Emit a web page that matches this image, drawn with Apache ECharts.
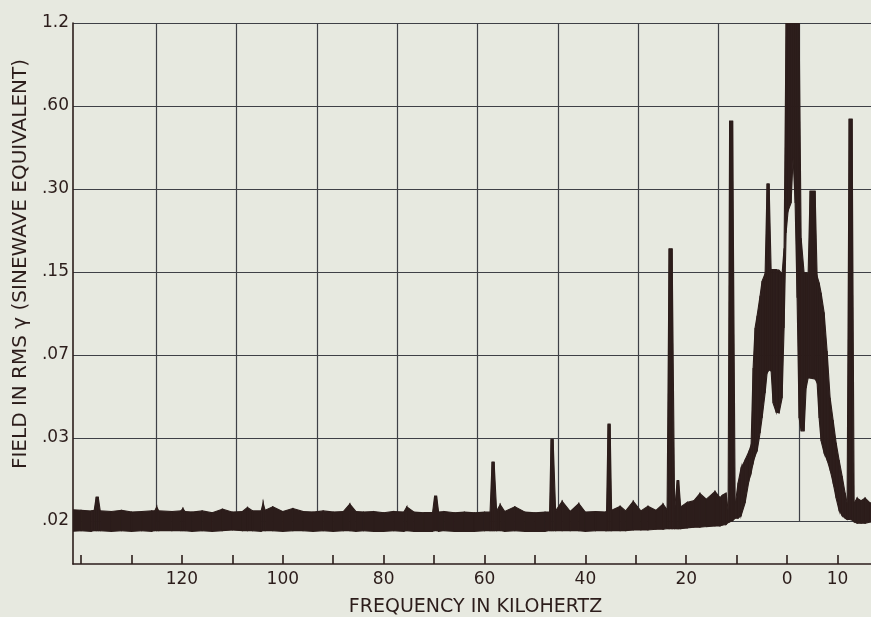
<!DOCTYPE html>
<html>
<head>
<meta charset="utf-8">
<script src="https://cdn.jsdelivr.net/npm/echarts@6/dist/echarts.min.js"></script>
<style>
  html, body { margin: 0; padding: 0; background: #e7e9e0; }
  #spectrum { width: 871px; height: 617px; }
</style>
</head>
<body>
<div id="spectrum"></div>
<script>
// frequency in kHz; negative = right of the 0 mark (labelled "10")
var freqKHz = [
  142.0, 140.0, 138.0, 137.4, 137.0, 136.6, 136.2, 134.0, 132.0, 130.0,
  128.0, 126.0, 125.4, 125.0, 124.6, 122.0, 120.2, 119.8, 119.4, 118.0,
  116.0, 114.0, 112.0, 110.0, 108.0, 107.0, 106.0, 104.3, 103.9, 103.5,
  102.0, 100.0, 98.0, 96.0, 94.0, 92.0, 90.0, 88.0, 86.7, 85.5,
  84.0, 82.0, 80.0, 78.0, 76.0, 75.4, 74.0, 72.0, 70.3, 69.9,
  69.5, 69.1, 68.0, 66.0, 64.0, 62.0, 60.0, 58.9, 58.5, 58.1,
  57.6, 56.9, 56.0, 54.0, 52.0, 50.0, 48.0, 47.1, 46.8, 46.4,
  45.9, 44.6, 43.0, 41.3, 40.0, 38.0, 36.0, 35.8, 35.5, 35.1,
  34.8, 33.1, 32.0, 30.5, 29.0, 27.6, 26.0, 24.6, 23.8, 23.4,
  22.8, 22.3, 21.8, 21.5, 21.1, 19.8, 18.5, 17.3, 16.0, 14.3,
  13.3, 12.9, 12.1, 11.7, 11.4, 10.8, 10.3, 9.72, 9.12, 8.33,
  7.54, 7.14, 6.74, 6.35, 5.95, 5.36, 4.96, 4.36, 3.97, 3.57,
  3.17, 2.78, 2.18, 1.59, 0.99, 0.60, 0.20, -0.20, -0.79, -1.19,
  -1.59, -1.98, -2.38, -2.78, -3.37, -3.77, -4.17, -4.56, -5.55, -5.95,
  -6.35, -6.74, -7.34, -7.93, -8.53, -9.12, -9.72, -10.31, -10.91, -11.50,
  -11.90, -12.30, -12.89, -13.29, -13.88, -14.68, -15.47, -16.46, -18.45, -21.4
];
// upper edge of the inked trace (rms field, gamma)
var fieldHi = [
  .0206, .0205, .0204, .0205, .0229, .0229, .0204, .0203, .0205, .0202,
  .0203, .0204, .0204, .0211, .0204, .0203, .0204, .0208, .0203, .0202,
  .0204, .0201, .0207, .0202, .0203, .0210, .0204, .0204, .0218, .0205,
  .0211, .0203, .0208, .0203, .0202, .0204, .0202, .0203, .0216, .0203,
  .0202, .0203, .0201, .0203, .0202, .0211, .0202, .0201, .0201, .0231,
  .0231, .0202, .0203, .0201, .0202, .0201, .0202, .0202, .0307, .0307,
  .0204, .0215, .0203, .0211, .0202, .0201, .0202, .0202, .0371, .0371,
  .0204, .0221, .0203, .0217, .0202, .0203, .0202, .0203, .0421, .0421,
  .0205, .0212, .0204, .0221, .0204, .0212, .0205, .0216, .0206, .182,
  .182, .0206, .0263, .0263, .0211, .0219, .0222, .0236, .0225, .0240,
  .0228, .0232, .0237, .0205, .529, .529, .0214, .0258, .0292, .0312,
  .0336, .0354, .0673, .0940, .104, .123, .139, .148, .313, .313,
  .153, .153, .153, .152, .148, .183, 1.6, 1.6, 1.6, 1.6,
  1.6, 1.6, 1.6, .199, .149, .149, .148, .295, .295, .145,
  .137, .126, .107, .0776, .0524, .0436, .0360, .0312, .0273, .0237,
  .0218, .538, .538, .0218, .0227, .0222, .0227, .0218, .0220, .0218
];
// lower edge of the inked trace
var fieldLo = [
  .0172, .0173, .0172, .0173, .0173, .0173, .0173, .0172, .0173, .0172,
  .0173, .0172, .0173, .0173, .0173, .0173, .0173, .0173, .0173, .0172,
  .0173, .0172, .0173, .0174, .0173, .0173, .0173, .0172, .0173, .0173,
  .0173, .0172, .0173, .0173, .0172, .0173, .0172, .0173, .0173, .0172,
  .0173, .0172, .0172, .0173, .0172, .0173, .0172, .0172, .0172, .0173,
  .0173, .0172, .0173, .0172, .0172, .0172, .0173, .0173, .0173, .0173,
  .0173, .0173, .0172, .0173, .0172, .0172, .0172, .0173, .0173, .0173,
  .0173, .0173, .0173, .0173, .0172, .0173, .0173, .0173, .0173, .0173,
  .0173, .0173, .0173, .0174, .0174, .0174, .0175, .0175, .0176, .0176,
  .0176, .0176, .0176, .0176, .0176, .0177, .0178, .0178, .0179, .0180,
  .0180, .0181, .0182, .0185, .0186, .0188, .0192, .0192, .0196, .0218,
  .0264, .0280, .0304, .0323, .0336, .0391, .0443, .0546, .0645, .0662,
  .0656, .0502, .0466, .0462, .0524, .0940, .208, .250, .267, .389,
  .267, .121, .0443, .0398, .0398, .0569, .0619, .0619, .0614, .0594,
  .0443, .0366, .0331, .0312, .0287, .0258, .0227, .0205, .0196, .0192,
  .0190, .0190, .0189, .0186, .0184, .0184, .0184, .0186, .0186, .0185
];

var yTickLabels = ['.02', '.03', '.07', '.15', '.30', '.60', '1.2'];
var xTickValues = [-10, 0, 10, 20, 30, 40, 50, 60, 70, 80, 90, 100, 110, 120, 130, 140];
var xLabelValues = [-10, 0, 20, 40, 60, 80, 100, 120];

// graph paper: vertical rulings every 15.92 kHz
var paperFirst = 125.05, paperStep = 15.92;
var paperLines = [];
for (var p = paperFirst; p > -21; p -= paperStep) paperLines.push(+p.toFixed(2));

var ink = '#2c1d1b';
var rule = '#3e4046';
var font = 'DejaVu Sans';

// each ruled step on the paper is a doubling; .02 sits at 1
function toAxis(v) {
  return Math.log(v / 0.01875) / Math.LN2 + 1;
}

// one quad per pair of neighbouring samples: [f, hi, lo, fNext, hiNext, loNext]
var traceData = [];
for (var i = 0; i < freqKHz.length - 1; i++) {
  traceData.push([
    freqKHz[i], toAxis(fieldHi[i]), toAxis(fieldLo[i]),
    freqKHz[i + 1], toAxis(fieldHi[i + 1]), toAxis(fieldLo[i + 1])
  ]);
}

function renderTrace(params, api) {
  var top = params.coordSys.y;
  var a = api.coord([api.value(0), api.value(1)]);
  var b = api.coord([api.value(3), api.value(4)]);
  var c = api.coord([api.value(3), api.value(5)]);
  var d = api.coord([api.value(0), api.value(2)]);
  a[1] = Math.max(a[1], top);
  b[1] = Math.max(b[1], top);
  return {
    type: 'polygon',
    shape: {points: [a, b, c, d]},
    style: {fill: ink, stroke: ink, lineWidth: 1.1}
  };
}

var myChart = echarts.init(document.getElementById('spectrum'), null, {renderer: 'canvas'});
var option = {
  animation: false,
  backgroundColor: '#e7e9e0',
  grid: [
    {left: 73, right: -21, top: 23, bottom: 53, containLabel: false, outerBoundsMode: 'none'},
    {left: 73, right: -21, top: 23, bottom: 96, containLabel: false, outerBoundsMode: 'none'}
  ],
  xAxis: [
    {
      gridIndex: 0,
      type: 'value',
      inverse: true,
      min: -20.8,
      max: 141.6,
      axisLine: {show: true, onZero: false, lineStyle: {color: ink, width: 1.6}},
      axisTick: {show: true, inside: true, length: 9, customValues: xTickValues,
        lineStyle: {color: ink, width: 1.6}},
      axisLabel: {customValues: xLabelValues, color: ink, fontSize: 17, fontFamily: font, margin: 7,
        formatter: function (v) { return String(Math.abs(v)); }},
      splitLine: {show: false},
      name: 'FREQUENCY IN KILOHERTZ',
      nameLocation: 'middle',
      nameGap: 34,
      nameTextStyle: {color: ink, fontSize: 19, fontFamily: font, padding: [0, 14, 0, 0]}
    },
    {
      gridIndex: 1,
      type: 'value',
      inverse: true,
      min: -20.8,
      max: 141.6,
      axisLine: {show: false},
      axisTick: {show: false, customValues: paperLines},
      axisLabel: {show: false},
      splitLine: {show: true, lineStyle: {color: rule, width: 1.2}}
    }
  ],
  yAxis: [
    {
      gridIndex: 0,
      type: 'value',
      min: 1 - 43 / 83,
      max: 7,
      axisLine: {show: true, onZero: false, lineStyle: {color: ink, width: 1.6}},
      axisTick: {show: false},
      axisLabel: {show: false},
      splitLine: {show: false}
    },
    {
      gridIndex: 1,
      type: 'value',
      min: 1,
      max: 7,
      interval: 1,
      axisLine: {show: false},
      axisTick: {show: false},
      axisLabel: {color: ink, fontSize: 17, fontFamily: font, margin: 4,
        formatter: function (v) { return yTickLabels[Math.round(v) - 1]; }},
      splitLine: {show: true, lineStyle: {color: rule, width: 1.2}},
      name: 'FIELD IN RMS γ (SINEWAVE EQUIVALENT)',
      nameLocation: 'middle',
      nameGap: 42,
      nameRotate: 90,
      nameTextStyle: {color: ink, fontSize: 20, fontFamily: font, padding: [0, 0, 0, 16]}
    }
  ],
  series: [
    {
      type: 'custom',
      xAxisIndex: 0,
      yAxisIndex: 0,
      clip: true,
      silent: true,
      encode: {x: [0, 3], y: [1, 2, 4, 5]},
      renderItem: renderTrace,
      data: traceData
    }
  ]
};
myChart.setOption(option);
window.onresize = function () { myChart.resize(); };
</script>
</body>
</html>
